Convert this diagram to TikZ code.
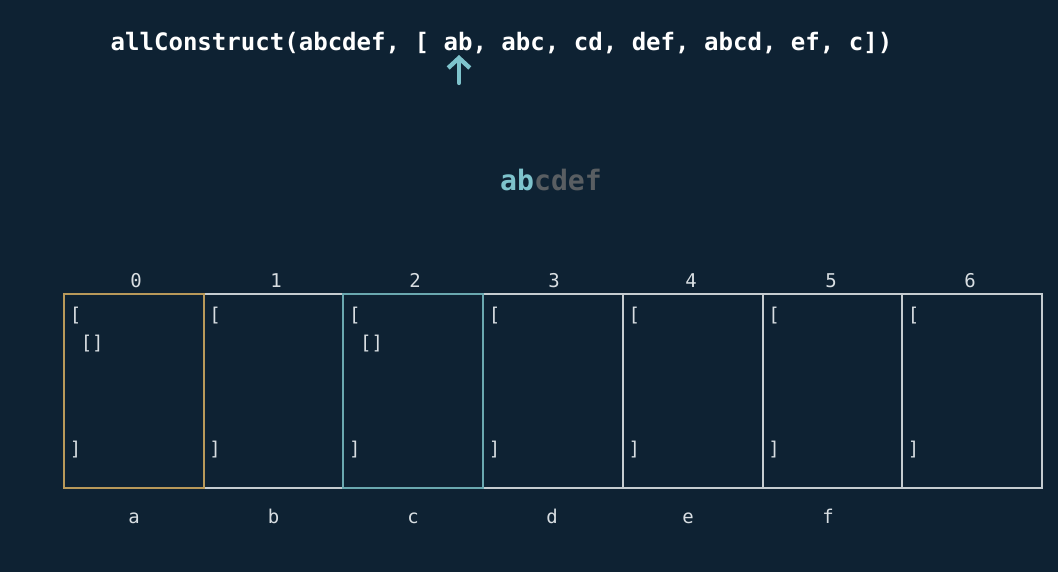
\documentclass[tikz,border=0pt]{standalone}
\usepackage{fontspec}
\setmonofont{DejaVu Sans Mono}
\usetikzlibrary{arrows.meta}

\definecolor{bgc}{HTML}{0E2233}
\definecolor{cellgray}{HTML}{C5CCD0}
\definecolor{cellgold}{HTML}{B8995A}
\definecolor{cellteal}{HTML}{6AA8B0}
\definecolor{hiteal}{HTML}{7EC3CC}
\definecolor{dimgray}{HTML}{595E62}
\definecolor{txt}{HTML}{D8DEE2}

\tikzset{
	cell/.style={draw=cellgray, line width=1.4pt, minimum width=3.49286cm, minimum height=4.85cm, inner sep=0pt},
	idx/.style={text=txt, font=\ttfamily\fontsize{13.5}{13.5}\selectfont, anchor=base, inner sep=0pt},
	br/.style={idx, anchor=base west},
}

\begin{document}
\begin{tikzpicture}[x=0.025cm, y=-0.025cm]
	\fill[bgc] (0,0) rectangle (1058,572);
	\node[text=white, font=\ttfamily\bfseries\fontsize{17.1}{17.1}\selectfont, anchor=base, inner sep=0pt] (call) at (501.5,50) {allConstruct(abcdef, [ ab, abc, cd, def, abcd, ef, c])};
	\coordinate (p0) at (459,83);
	\coordinate (p1) at (459,55);
	\draw [-{Straight Barb[length=2.5mm, width=5.4mm]}, hiteal, line width=3.1pt, line cap=round] (p0) -- (p1);
	\node[font=\ttfamily\bfseries\fontsize{20}{20}\selectfont, anchor=base, inner sep=0pt] (target) at (551,190) {\textcolor{hiteal}{ab}\textcolor{dimgray}{cdef}};
	% table cells
	\node[cell] (c1) at (273.571,391) {};
	\node[cell] (c3) at (553,391) {};
	\node[cell] (c4) at (692.714,391) {};
	\node[cell] (c5) at (832.429,391) {};
	\node[cell] (c6) at (972.143,391) {};
	\node[cell, draw=cellgold] (c0) at (133.857,391) {};
	\node[cell, draw=cellteal] (c2) at (413.286,391) {};
	% indices
	\node[idx] (i0) at (136,287) {0};
	\node[idx] (i1) at (276,287) {1};
	\node[idx] (i2) at (415,287) {2};
	\node[idx] (i3) at (554,287) {3};
	\node[idx] (i4) at (691,287) {4};
	\node[idx] (i5) at (831,287) {5};
	\node[idx] (i6) at (970,287) {6};
	% letters
	\node[idx] (l0) at (134,523) {a};
	\node[idx] (l1) at (273.6,523) {b};
	\node[idx] (l2) at (413,523) {c};
	\node[idx] (l3) at (552,523) {d};
	\node[idx] (l4) at (688,523) {e};
	\node[idx] (l5) at (828,523) {f};
	% contents
	\node[br] (o0) at (69.5,321) {[};
	\node[br] (e0) at (80.5,349) {[]};
	\node[br] (x0) at (69.5,455) {]};
	\node[br] (o1) at (209.2,321) {[};
	\node[br] (x1) at (209.2,455) {]};
	\node[br] (o2) at (348.9,321) {[};
	\node[br] (e2) at (359.9,349) {[]};
	\node[br] (x2) at (348.9,455) {]};
	\node[br] (o3) at (488.6,321) {[};
	\node[br] (x3) at (488.6,455) {]};
	\node[br] (o4) at (628.3,321) {[};
	\node[br] (x4) at (628.3,455) {]};
	\node[br] (o5) at (768,321) {[};
	\node[br] (x5) at (768,455) {]};
	\node[br] (o6) at (907.6,321) {[};
	\node[br] (x6) at (907.6,455) {]};
\end{tikzpicture}
\end{document}
